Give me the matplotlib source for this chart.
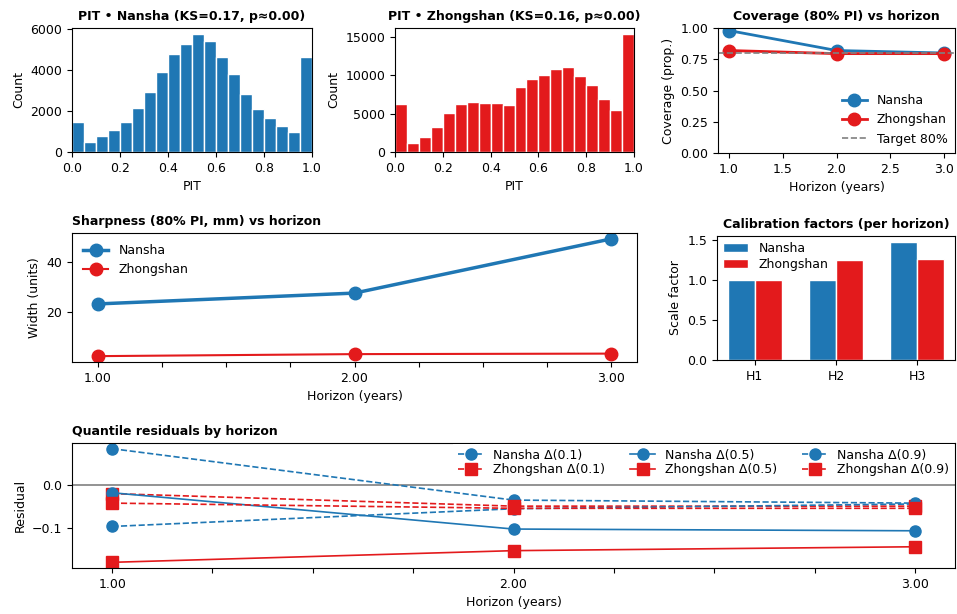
import numpy as np
import matplotlib
matplotlib.use("Agg")
import matplotlib.pyplot as plt

plt.rcParams["font.size"] = 9

BLUE = "#1f77b4"
RED = "#e31a1c"

# PIT histogram counts (20 bins on [0, 1])
pit_edges = np.linspace(0, 1, 21)
pit_nansha = [1450, 500, 760, 1090, 1470, 2125, 2930, 3920, 4790, 5255,
              5765, 5400, 4645, 3805, 2850, 2090, 1665, 1270, 955, 4630]
pit_zhongshan = [6270, 1180, 1930, 3290, 5130, 6270, 6490, 6400, 6320, 6100,
                 8510, 9475, 9960, 10830, 11010, 9910, 8685, 6890, 5480, 15350]

horizons = [1, 2, 3]

# coverage of the 80% PI
cov_nansha = [0.98, 0.82, 0.80]
cov_zhongshan = [0.82, 0.795, 0.795]
cov_ticks = [0.0, 0.25, 0.5, 0.75, 1.0]

# sharpness (PI width)
sharp_nansha = [23.2, 27.5, 49.0]
sharp_zhongshan = [2.5, 3.3, 3.5]

# calibration scale factors
cal_labels = ["H1", "H2", "H3"]
cal_nansha = [1.0, 1.0, 1.48]
cal_zhongshan = [1.0, 1.25, 1.26]

# quantile residuals
res_n_q1 = [0.083, -0.036, -0.043]
res_n_q5 = [-0.019, -0.103, -0.107]
res_n_q9 = [-0.097, -0.056, -0.045]
res_z_q1 = [-0.021, -0.050, -0.050]
res_z_q5 = [-0.180, -0.153, -0.144]
res_z_q9 = [-0.043, -0.055, -0.055]

W, H = 957, 614
fig = plt.figure(figsize=(W / 100, H / 100), dpi=100)


def box(l, t, r, b):
    return [l / W, (H - b) / H, (r - l) / W, (b - t) / H]


TITLE_KW = dict(fontsize=9, fontweight="bold")

# PIT histograms
for pos, counts, color, title in [
    (box(72, 28, 312, 152), pit_nansha, BLUE, "PIT • Nansha (KS=0.17, p≈0.00)"),
    (box(395, 28, 634, 152), pit_zhongshan, RED, "PIT • Zhongshan (KS=0.16, p≈0.00)"),
]:
    ax = fig.add_axes(pos)
    ax.bar(pit_edges[:-1], counts, width=np.diff(pit_edges), align="edge",
           color=color, edgecolor="white", linewidth=1)
    ax.set_xlim(0, 1)
    ax.set_xlabel("PIT")
    ax.set_ylabel("Count")
    ax.set_title(title, **TITLE_KW)

# coverage
ax = fig.add_axes(box(718, 28, 955, 153))
ax.plot(horizons, cov_nansha, "-o", color=BLUE, lw=2, ms=9, label="Nansha")
ax.plot(horizons, cov_zhongshan, "-o", color=RED, lw=2, ms=9, label="Zhongshan")
ax.axhline(0.8, color="gray", ls="--", lw=1.2, label="Target 80%")
ax.set_ylim(0, 1)
ax.set_yticks(cov_ticks)
ax.set_yticklabels(["%.2f" % v for v in cov_ticks])
ax.set_xlabel("Horizon (years)")
ax.set_ylabel("Coverage (prop.)")
ax.set_title("Coverage (80% PI) vs horizon", **TITLE_KW)
ax.legend(loc="lower right", frameon=False, borderaxespad=0.2)

# sharpness
ax = fig.add_axes(box(72, 233, 637, 362))
ax.plot(horizons, sharp_nansha, "-o", color=BLUE, lw=2.5, ms=9, label="Nansha")
ax.plot(horizons, sharp_zhongshan, "-o", color=RED, lw=1.5, ms=9, label="Zhongshan")
xt = np.arange(1, 3.01, 0.25)
ax.set_xticks(xt)
ax.set_xticklabels(["%.2f" % v if v == int(v) else "" for v in xt])
ax.set_xlabel("Horizon (years)")
ax.set_ylabel("Width (units)")
ax.set_title("Sharpness (80% PI, mm) vs horizon", loc="left", **TITLE_KW)
ax.legend(loc="upper left", frameon=False)

# calibration factors
ax = fig.add_axes(box(717, 236, 955, 360))
x = np.arange(len(cal_labels))
bw = 0.33
ax.bar(x - bw / 2, cal_nansha, bw, color=BLUE, edgecolor="white", label="Nansha")
ax.bar(x + bw / 2, cal_zhongshan, bw, color=RED, edgecolor="white", label="Zhongshan")
ax.set_xticks(x)
ax.set_xticklabels(cal_labels)
ax.set_ylabel("Scale factor")
ax.set_title("Calibration factors (per horizon)", **TITLE_KW)
ax.legend(loc="upper left", frameon=False, borderaxespad=0.1, labelspacing=0.2)

# quantile residuals
ax = fig.add_axes(box(72, 443, 955, 568))
ax.axhline(0, color="gray", lw=1.2, zorder=0)
ax.plot(horizons, res_n_q1, "--o", color=BLUE, lw=1.2, ms=8, label="Nansha Δ(0.1)")
ax.plot(horizons, res_z_q1, "--s", color=RED, lw=1.2, ms=8, label="Zhongshan Δ(0.1)")
ax.plot(horizons, res_n_q5, "-o", color=BLUE, lw=1.2, ms=8, label="Nansha Δ(0.5)")
ax.plot(horizons, res_z_q5, "-s", color=RED, lw=1.2, ms=8, label="Zhongshan Δ(0.5)")
ax.plot(horizons, res_n_q9, "--o", color=BLUE, lw=1.2, ms=8, label="Nansha Δ(0.9)")
ax.plot(horizons, res_z_q9, "--s", color=RED, lw=1.2, ms=8, label="Zhongshan Δ(0.9)")
ax.set_xticks(xt)
ax.set_xticklabels(["%.2f" % v if v == int(v) else "" for v in xt])
ax.set_xlabel("Horizon (years)")
ax.set_ylabel("Residual")
ax.set_title("Quantile residuals by horizon", loc="left", **TITLE_KW)
ax.legend(loc="upper right", ncol=3, framealpha=1, fancybox=False,
          edgecolor="none", borderaxespad=0.05, labelspacing=0.1, columnspacing=2.0)

fig.savefig("out.png", dpi=100)
